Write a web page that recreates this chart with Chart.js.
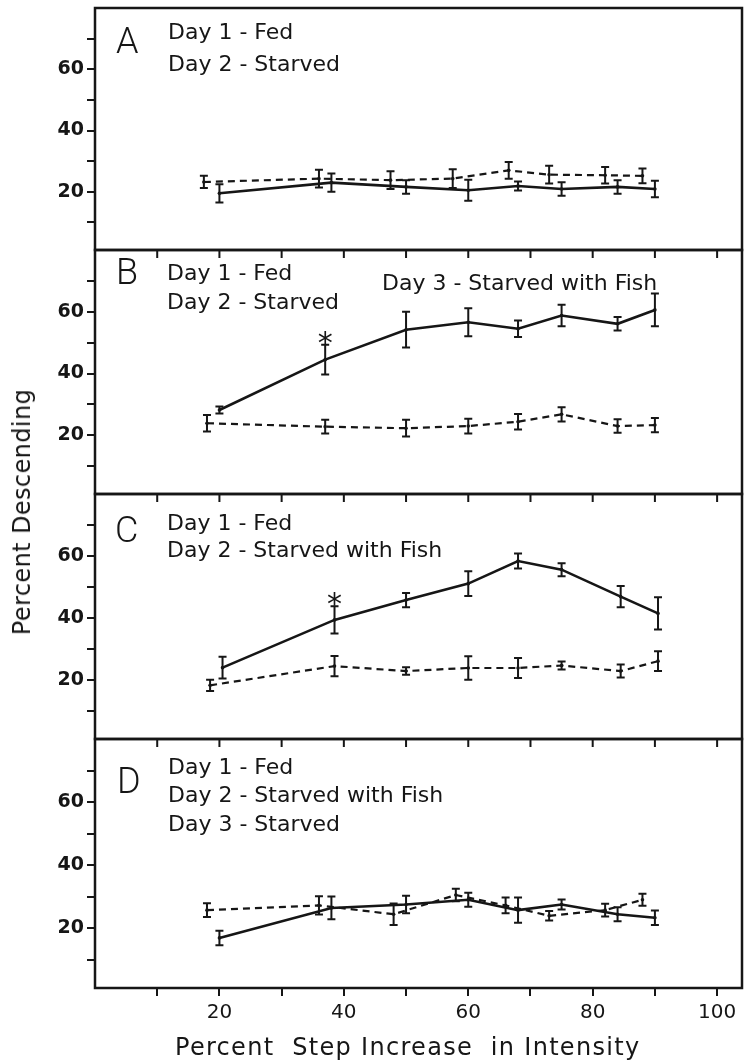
<!DOCTYPE html>
<html>
<head>
<meta charset="utf-8">
<title>Percent Descending</title>
<script src="https://cdn.jsdelivr.net/npm/chart.js@4.4.1/dist/chart.umd.min.js"></script>
<style>
  html, body { margin: 0; padding: 0; background: #fff; }
  #figure { position: relative; width: 744px; height: 1063px; overflow: hidden; background: #fff; }
  #figure canvas { position: absolute; left: 0; }
  .txt { position: absolute; white-space: pre; color: #161616; font-family: "DejaVu Sans", sans-serif; z-index: 2; }
  #yTitle { position: absolute; left: 22px; top: 512px; transform: translate(-50%, -50%) rotate(-90deg);
    font-family: "DejaVu Sans", sans-serif; font-size: 24px; letter-spacing: 0.4px; color: #161616; white-space: pre; }
</style>
</head>
<body>
<div id="figure">
  <canvas id="panelA"></canvas>
  <canvas id="panelB"></canvas>
  <canvas id="panelC"></canvas>
  <canvas id="panelD"></canvas>
  <div id="yTitle">Percent Descending</div>
</div>
<script>
// axis ticks
const xTicks = [10, 20, 30, 40, 50, 60, 70, 80, 90, 100];
const xLabels = [20, 40, 60, 80, 100];
const yTicks = [10, 20, 30, 40, 50, 60, 70];
const yLabels = [20, 40, 60];

// A: dashed (base) and solid (test) series, mean and error
const aBaseX = [17.5, 36, 47.5, 57.5, 66.5, 73, 82, 88];
const aBaseY = [23.2, 24.3, 23.8, 24.3, 27.0, 25.6, 25.4, 25.2];
const aBaseErr = [2.0, 2.9, 2.9, 3.1, 2.7, 2.9, 2.7, 2.4];
const aTestX = [20, 38, 50, 60, 68, 75, 84, 90];
const aTestY = [19.5, 23.0, 21.6, 20.5, 21.9, 20.9, 21.6, 20.9];
const aTestErr = [3.0, 3.0, 2.2, 3.4, 1.5, 2.2, 2.2, 2.7];

// B
const bBaseX = [18, 37, 50, 60, 68, 75, 84, 90];
const bBaseY = [23.9, 22.8, 22.3, 23.0, 24.4, 26.8, 23.0, 23.3];
const bBaseErr = [2.7, 2.2, 2.7, 2.4, 2.5, 2.3, 2.2, 2.3];
const bTestX = [20, 37, 50, 60, 68, 75, 84, 90];
const bTestY = [28.2, 44.5, 54.2, 56.6, 54.5, 58.8, 56.1, 60.6];
const bTestErr = [1.1, 4.8, 5.8, 4.5, 2.7, 3.5, 2.2, 5.3];
const bStars = [1];

// C
const cBaseX = [18.5, 38.5, 50, 60, 68, 75, 84.5, 90.5];
const cBaseY = [18.3, 24.5, 22.9, 23.9, 23.9, 24.7, 22.9, 26.1];
const cBaseErr = [1.8, 3.3, 1.2, 3.8, 3.2, 1.3, 2.1, 3.2];
const cTestX = [20.5, 38.5, 50, 60, 68, 75, 84.5, 90.5];
const cTestY = [24.0, 39.4, 45.8, 51.1, 58.4, 55.6, 46.9, 41.5];
const cTestErr = [3.5, 4.4, 2.3, 4.0, 2.4, 2.1, 3.4, 5.2];
const cStars = [1];

// D
const dBaseX = [18, 36, 48, 58, 66, 73, 82, 88];
const dBaseY = [25.7, 27.2, 24.4, 30.5, 27.2, 23.9, 25.7, 29.0];
const dBaseErr = [2.2, 2.9, 3.4, 2.0, 2.5, 1.5, 2.0, 1.9];
const dTestX = [20, 38, 50, 60, 68, 75, 84, 90];
const dTestY = [16.9, 26.4, 27.5, 29.0, 25.7, 27.5, 24.4, 23.3];
const dTestErr = [2.3, 3.6, 2.8, 2.2, 4.0, 1.6, 2.2, 2.3];

const ink = '#161616';

// frame around each plot, with short inward ticks along the top edge
const framePlugin = {
  id: 'frame',
  afterDraw(chart, args, opts) {
    const { ctx, chartArea: a, scales: { x } } = chart;
    ctx.save();
    ctx.strokeStyle = ink;
    ctx.lineWidth = 2.5;
    ctx.strokeRect(a.left, a.top, a.right - a.left, a.bottom - a.top);
    if (opts.topTicks) {
      ctx.lineWidth = 2;
      ctx.beginPath();
      xTicks.forEach((v) => {
        const px = x.getPixelForValue(v);
        ctx.moveTo(px, a.top);
        ctx.lineTo(px, a.top + 8);
      });
      ctx.stroke();
    }
    ctx.restore();
  },
};

// vertical error bars with caps, plus the significance asterisk
const errorBars = {
  id: 'errorBars',
  afterDatasetsDraw(chart) {
    const { ctx, scales: { x, y } } = chart;
    ctx.save();
    ctx.strokeStyle = ink;
    ctx.fillStyle = ink;
    ctx.lineWidth = 2;
    chart.data.datasets.forEach((ds) => {
      ds.data.forEach((p, i) => {
        const e = ds.errors[i];
        const px = x.getPixelForValue(p.x);
        const top = y.getPixelForValue(p.y + e);
        const bot = y.getPixelForValue(p.y - e);
        ctx.beginPath();
        ctx.moveTo(px, top);
        ctx.lineTo(px, bot);
        ctx.moveTo(px - 4, top);
        ctx.lineTo(px + 4, top);
        ctx.moveTo(px - 4, bot);
        ctx.lineTo(px + 4, bot);
        ctx.stroke();
      });
      (ds.stars || []).forEach((i) => {
        const p = ds.data[i];
        const px = x.getPixelForValue(p.x);
        const top = y.getPixelForValue(p.y + ds.errors[i]);
        ctx.font = '30px "DejaVu Sans"';
        ctx.textAlign = 'center';
        ctx.textBaseline = 'alphabetic';
        ctx.fillText('*', px, top + 8);
      });
    });
    ctx.restore();
  },
};

function series(xs, ys, errs, dashed, stars) {
  return {
    data: xs.map((x, i) => ({ x, y: ys[i] })),
    errors: errs,
    stars: stars,
    borderColor: ink,
    borderWidth: dashed ? 2.2 : 2.6,
    borderDash: dashed ? [7, 5] : [],
    pointRadius: 1.8,
    pointBackgroundColor: ink,
    pointBorderWidth: 0,
    tension: 0,
    fill: false,
  };
}

const tickFont = { family: 'DejaVu Sans', size: 19, weight: 'bold' };

// keep the plot area exactly on the panel box
function noPad(s) {
  s.paddingTop = 0;
  s.paddingBottom = 0;
  s.paddingLeft = 0;
  s.paddingRight = 0;
}

function makePanel(id, box, datasets, bottom) {
  const canvas = document.getElementById(id);
  const axisH = bottom ? 46 : 0;
  canvas.width = 744;
  canvas.height = box.bottom - box.top + 4 + (bottom ? axisH : 4);
  canvas.style.top = (box.top - 4) + 'px';
  return new Chart(canvas, {
    type: 'line',
    data: { datasets },
    plugins: [framePlugin, errorBars],
    options: {
      responsive: false,
      animation: false,
      devicePixelRatio: 1,
      layout: { autoPadding: false, padding: { left: 0, right: 2, top: 4, bottom: bottom ? 0 : 4 } },
      plugins: {
        legend: { display: false },
        tooltip: { enabled: false },
        frame: { topTicks: box.topTicks },
      },
      scales: {
        x: {
          type: 'linear',
          min: 0,
          max: 104,
          display: bottom,
          afterBuildTicks: (axis) => { axis.ticks = xTicks.map((v) => ({ value: v })); },
          afterFit: (s) => { s.height = axisH; noPad(s); },
          grid: { drawOnChartArea: false, tickLength: 8, color: ink, lineWidth: 2 },
          border: { display: false },
          ticks: {
            autoSkip: false,
            maxRotation: 0,
            padding: 5,
            color: ink,
            font: { family: 'DejaVu Sans', size: 20 },
            callback: (v) => (xLabels.includes(v) ? String(v) : ''),
          },
        },
        y: {
          min: 1,
          max: 80,
          afterBuildTicks: (axis) => { axis.ticks = yTicks.map((v) => ({ value: v })); },
          afterFit: (s) => { s.width = 95; noPad(s); },
          grid: { drawOnChartArea: false, tickLength: 8, color: ink, lineWidth: 2 },
          border: { display: false },
          ticks: {
            autoSkip: false,
            padding: 3,
            color: ink,
            font: tickFont,
            callback: (v) => (yLabels.includes(v) ? String(v) : ''),
          },
        },
      },
    },
  });
}

makePanel('panelA', { top: 8, bottom: 250, topTicks: false }, [
  series(aBaseX, aBaseY, aBaseErr, true),
  series(aTestX, aTestY, aTestErr, false),
], false);
makePanel('panelB', { top: 250, bottom: 494, topTicks: true }, [
  series(bBaseX, bBaseY, bBaseErr, true),
  series(bTestX, bTestY, bTestErr, false, bStars),
], false);
makePanel('panelC', { top: 494, bottom: 739, topTicks: true }, [
  series(cBaseX, cBaseY, cBaseErr, true),
  series(cTestX, cTestY, cTestErr, false, cStars),
], false);
makePanel('panelD', { top: 739, bottom: 988, topTicks: true }, [
  series(dBaseX, dBaseY, dBaseErr, true),
  series(dTestX, dTestY, dTestErr, false),
], true);

// panel letters, condition notes and axis title, placed by baseline
const fig = document.getElementById('figure');
function addText(str, left, baseline, size, extra) {
  const el = document.createElement('div');
  el.className = 'txt';
  el.textContent = str;
  el.style.left = left + 'px';
  el.style.top = (baseline - 0.845 * size) + 'px';
  el.style.fontSize = size + 'px';
  el.style.lineHeight = size + 'px';
  Object.assign(el.style, extra || {});
  fig.appendChild(el);
}
const letterStyle = { fontFamily: 'Roboto, sans-serif', fontWeight: '300' };

addText('A', 116, 53, 36, letterStyle);
addText('Day 1 - Fed', 168, 40, 22);
addText('Day 2 - Starved', 168, 72, 22);

addText('B', 116, 284, 36, letterStyle);
addText('Day 1 - Fed', 167, 281, 22);
addText('Day 2 - Starved', 167, 310, 22);
addText('Day 3 - Starved with Fish', 382, 291, 22);

addText('C', 115, 542, 36, letterStyle);
addText('Day 1 - Fed', 167, 531, 22);
addText('Day 2 - Starved with Fish', 167, 558, 22);

addText('D', 117, 793, 36, letterStyle);
addText('Day 1 - Fed', 168, 775, 22);
addText('Day 2 - Starved with Fish', 168, 803, 22);
addText('Day 3 - Starved', 168, 832, 22);

addText('Percent  Step Increase  in Intensity', 175, 1055, 24, { letterSpacing: '1.3px' });
</script>
</body>
</html>
